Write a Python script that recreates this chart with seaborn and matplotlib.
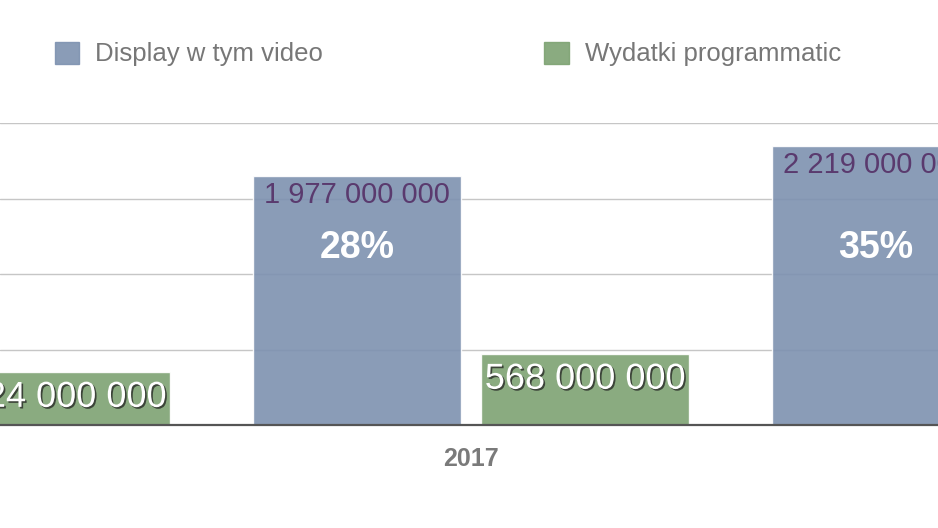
import seaborn as sns
import numpy as np
import pandas as pd
import matplotlib
matplotlib.use("Agg")
import matplotlib.pyplot as plt
import matplotlib.patheffects as pe

sns.set_style(style="white")
plt.rcParams['font.family'] = ['Liberation Sans', 'DejaVu Sans']

# values (only the bars that are in view)
years = ['2016', '2017', '2017', '2018']
series = ['Wydatki programmatic', 'Display w tym video', 'Wydatki programmatic', 'Display w tym video']
values = [424000000, 1977000000, 568000000, 2219000000]
shares = {('2017', 'Display w tym video'): '28%', ('2018', 'Display w tym video'): '35%'}

year_order = ['2016', '2017', '2018']
hue_order = ['Display w tym video', 'Wydatki programmatic']
palette = {'Display w tym video': '#7d91b0', 'Wydatki programmatic': '#7da272'}

df = pd.DataFrame({'rok': years, 'seria': series, 'wartosc': values})

fig = plt.figure(figsize=(9.38, 5.28), dpi=100)
ax = fig.add_axes([0, 103 / 528, 1, 302 / 528])

sns.barplot(data=df, x='rok', y='wartosc', hue='seria', order=year_order,
            hue_order=hue_order, palette=palette, width=0.879, gap=0.087,
            alpha=0.9, saturation=1, errorbar=None, ax=ax, zorder=2)

ax.set_yticks(np.arange(0, 2400000001, 600000000))
ax.set_xticks(range(len(year_order)))
ax.set_xticklabels(year_order, fontsize=18, fontweight='bold', color='#7a7a7a')
ax.set_ylim(0, 2400000000)
ax.set_xlim(0.0925, 1.90)
ax.yaxis.grid(True, color='#c6c6c6', linewidth=1, zorder=0)
ax.set_axisbelow(True)
for s in ['left', 'right', 'top']:
    ax.spines[s].set_visible(False)
ax.spines['bottom'].set_color('#555555')
ax.spines['bottom'].set_linewidth(1.6)
ax.set_yticklabels([])
ax.tick_params(length=0)
ax.tick_params(axis='x', pad=16)
ax.set_xlabel('')
ax.set_ylabel('')

shadow = [pe.SimplePatchShadow(offset=(1.2, -1.2), shadow_rgbFace='#222222', alpha=0.75), pe.Normal()]

for container, name in zip(ax.containers, hue_order):
    for bar in container:
        h = bar.get_height()
        if not np.isfinite(h) or h == 0:
            continue
        cx = bar.get_x() + bar.get_width() / 2
        yr = year_order[int(round(cx))]
        label = f"{int(h):,}".replace(',', ' ')
        if name == 'Display w tym video':
            ax.annotate(label, (cx, h), xytext=(0, -13.5), textcoords='offset points',
                        ha='center', va='center', fontsize=21, color='#5a3a6e',
                        annotation_clip=False)
            pct = shares.get((yr, name))
            if pct:
                # share labels sit at a common height inside the bars
                ax.text(cx, 0.587, pct, transform=ax.get_xaxis_transform(),
                        ha='center', va='center', fontsize=27, fontweight='bold',
                        color='white', family=['Liberation Sans Narrow', 'Liberation Sans'])
        else:
            ax.annotate(label, (cx, h), xytext=(0, -18.5), textcoords='offset points',
                        ha='center', va='center', fontsize=26, color='white',
                        path_effects=shadow, annotation_clip=False)

ax.get_legend().remove()
handles = [plt.Rectangle((0, 0), 1, 1, color=palette[k], alpha=0.9) for k in hue_order]
fig.legend(handles, hue_order, loc='center left', bbox_to_anchor=(55 / 938, 1 - 54 / 528),
           ncol=2, frameon=False, fontsize=18.5, labelcolor='#777777', handlelength=0.95,
           handleheight=0.95, handletextpad=0.62, columnspacing=8.6, borderpad=0,
           borderaxespad=0)

fig.savefig('out.png', dpi=100)
